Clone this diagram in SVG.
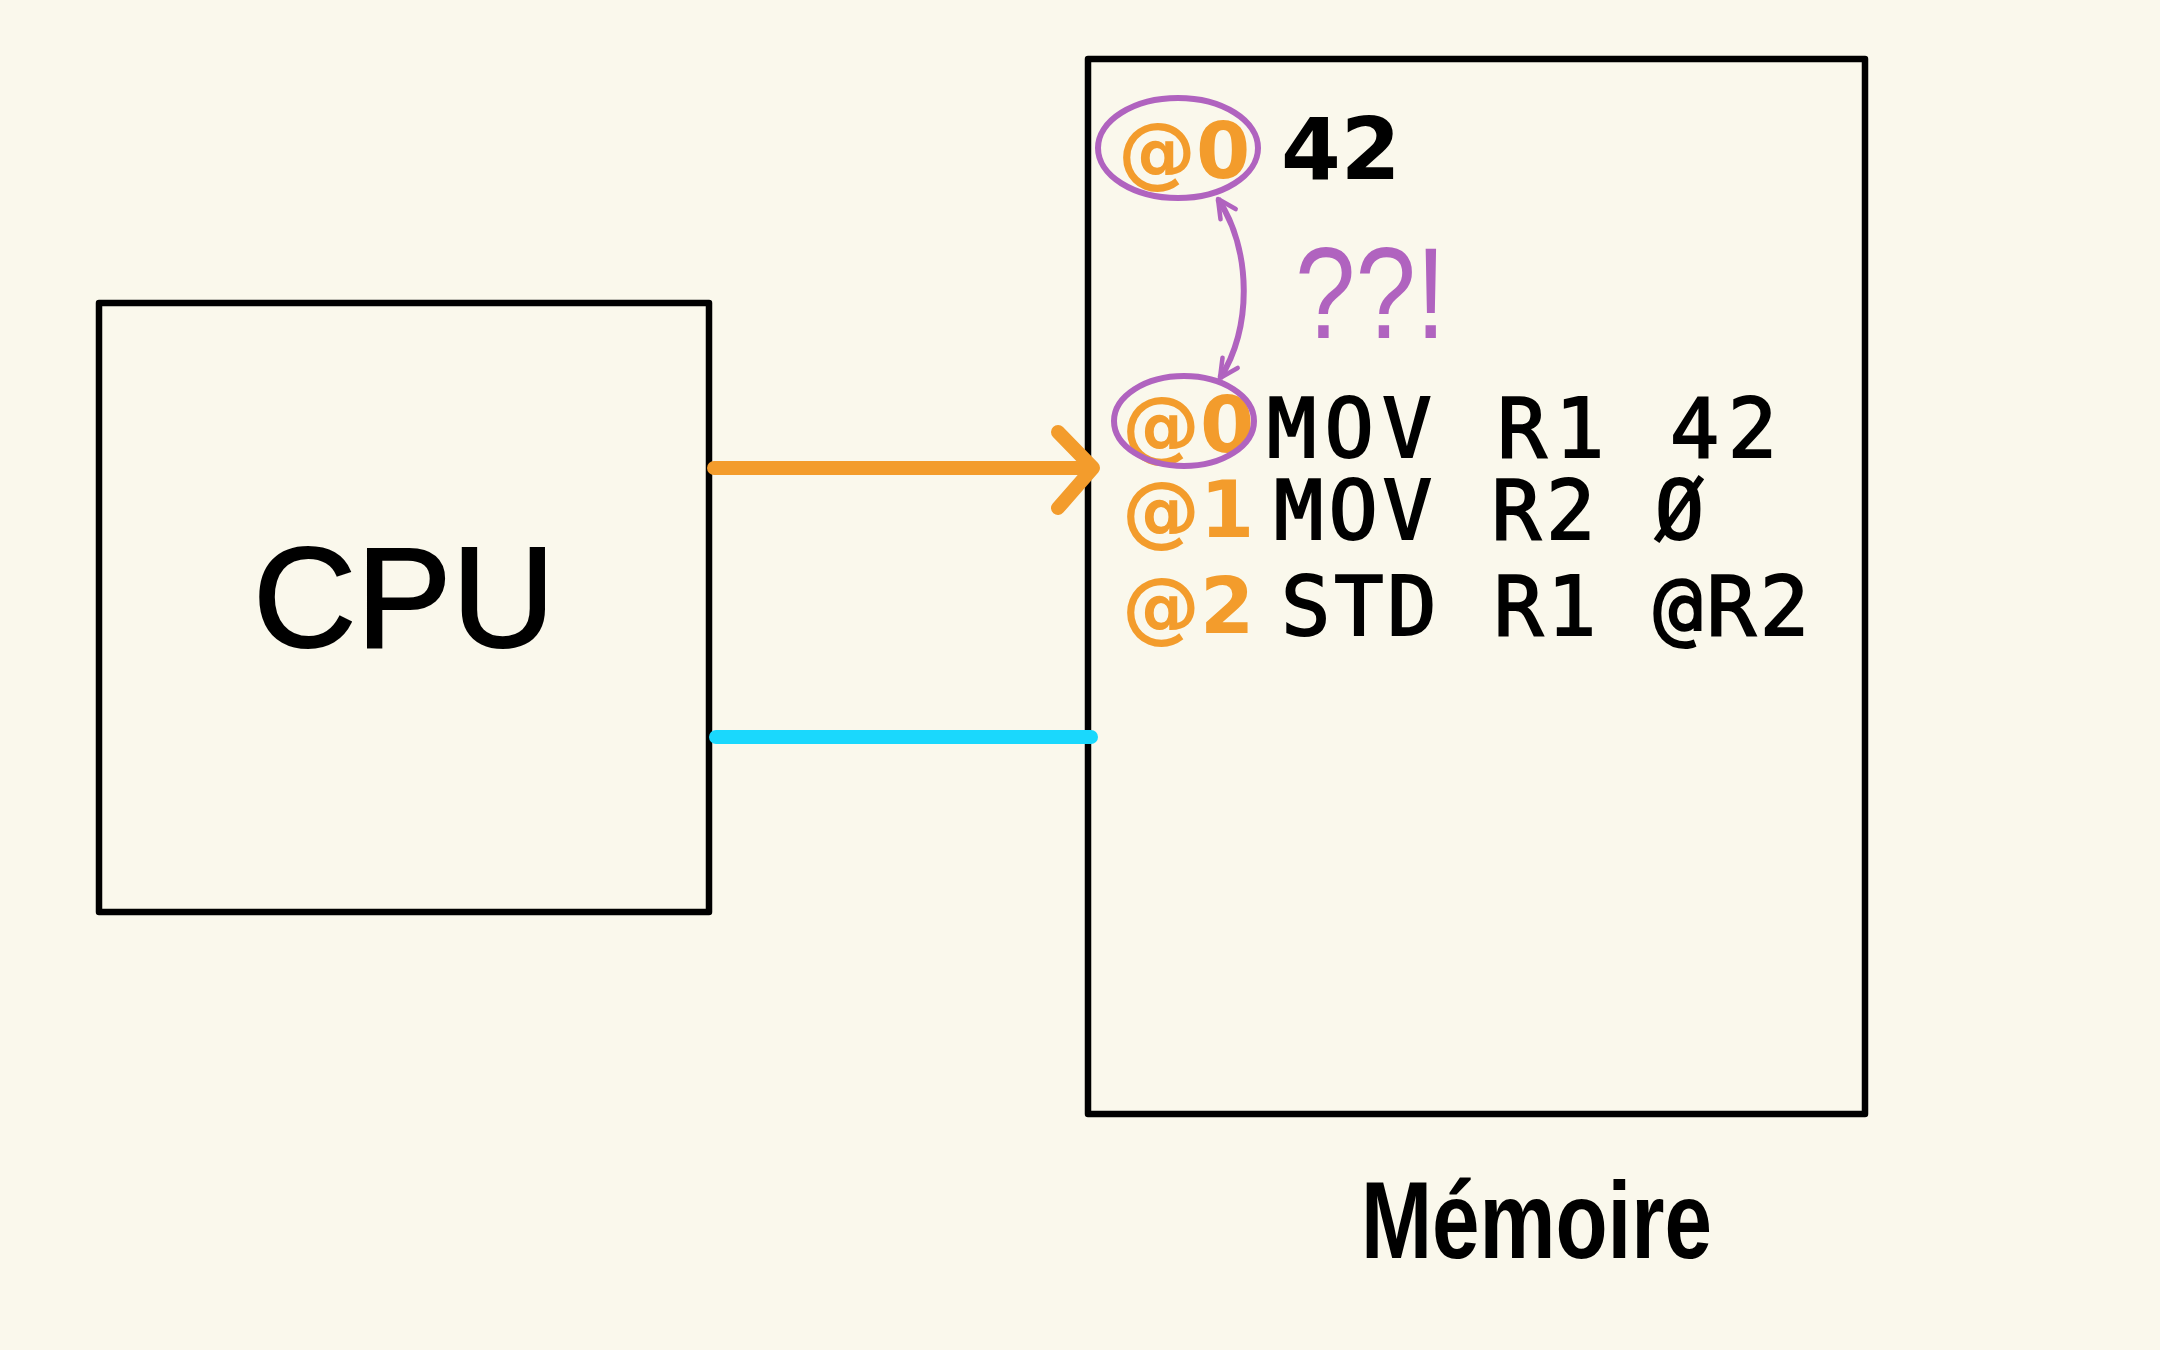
<svg xmlns="http://www.w3.org/2000/svg" width="2160" height="1350" viewBox="0 0 2160 1350">
<style>
.box{fill:none;stroke:#000;stroke-width:6.5;stroke-linejoin:round}
.addr{font-family:"DejaVu Sans","Liberation Sans",sans-serif;font-weight:bold;fill:#f39c2c;font-size:78px}
.code{font-family:"DejaVu Sans Mono","Liberation Mono",monospace;fill:#000;stroke:#000;stroke-width:2;font-size:82px}
.purple{fill:none;stroke:#b063bf;stroke-width:6}
</style>
<defs>
<marker id="pa" viewBox="0 0 20 20" refX="17" refY="10" markerWidth="26" markerHeight="26" markerUnits="userSpaceOnUse" orient="auto-start-reverse">
<path d="M3,3 L17,10 L3,17" fill="none" stroke="#b063bf" stroke-width="3.5" stroke-linecap="round" stroke-linejoin="round"/>
</marker>
</defs>
<rect width="2160" height="1350" fill="#faf8ec"/>
<g id="cpu">
<rect class="box" x="99" y="303" width="610" height="609"/>
<text x="404" y="647" text-anchor="middle" font-family="Liberation Sans, sans-serif" font-size="143" fill="#000" stroke="#000" stroke-width="2">CPU</text>
</g>
<g id="memoire">
<rect class="box" x="1088" y="59" width="777" height="1055"/>
<text x="1361" y="1258" font-family="Liberation Sans, sans-serif" font-weight="bold" font-size="110" fill="#000" textLength="351" lengthAdjust="spacingAndGlyphs">Mémoire</text>
</g>
<g id="cell-top">
<text class="addr" x="1118" y="178">@0</text>
<text x="1281" y="179" font-family="DejaVu Sans, sans-serif" font-weight="bold" font-size="86" fill="#000">42</text>
<ellipse class="purple" cx="1178" cy="148" rx="80" ry="50"/>
</g>
<g id="code">
<text class="addr" x="1122" y="452">@0</text>
<ellipse class="purple" cx="1184" cy="421" rx="70" ry="45"/>
<text class="code" x="1267" y="457" textLength="510" lengthAdjust="spacing">MOV R1 42</text>
<text class="addr" x="1122" y="537">@1</text>
<text class="code" x="1274" y="539" textLength="430" lengthAdjust="spacing">MOV R2 Ø</text>
<text class="addr" x="1122" y="633">@2</text>
<text class="code" x="1281" y="635" textLength="528" lengthAdjust="spacing">STD R1 @R2</text>
</g>
<g id="question">
<text x="1295" y="338" font-family="Liberation Sans, sans-serif" font-size="130" fill="#b063bf" textLength="151" lengthAdjust="spacingAndGlyphs">??!</text>
</g>
<g id="connectors">
<line x1="714" y1="468" x2="1092" y2="468" stroke="#f39c2c" stroke-width="14" stroke-linecap="round"/>
<path d="M1058,432 L1093,468 L1058,508" fill="none" stroke="#f39c2c" stroke-width="14" stroke-linecap="round" stroke-linejoin="round"/>
<line x1="716" y1="737" x2="1091" y2="737" stroke="#1ad8fd" stroke-width="14" stroke-linecap="round"/>
<path class="purple" stroke-width="4.5" d="M1218,199 C1252,250 1252,330 1220,378" marker-start="url(#pa)" marker-end="url(#pa)"/>
</g>
</svg>
